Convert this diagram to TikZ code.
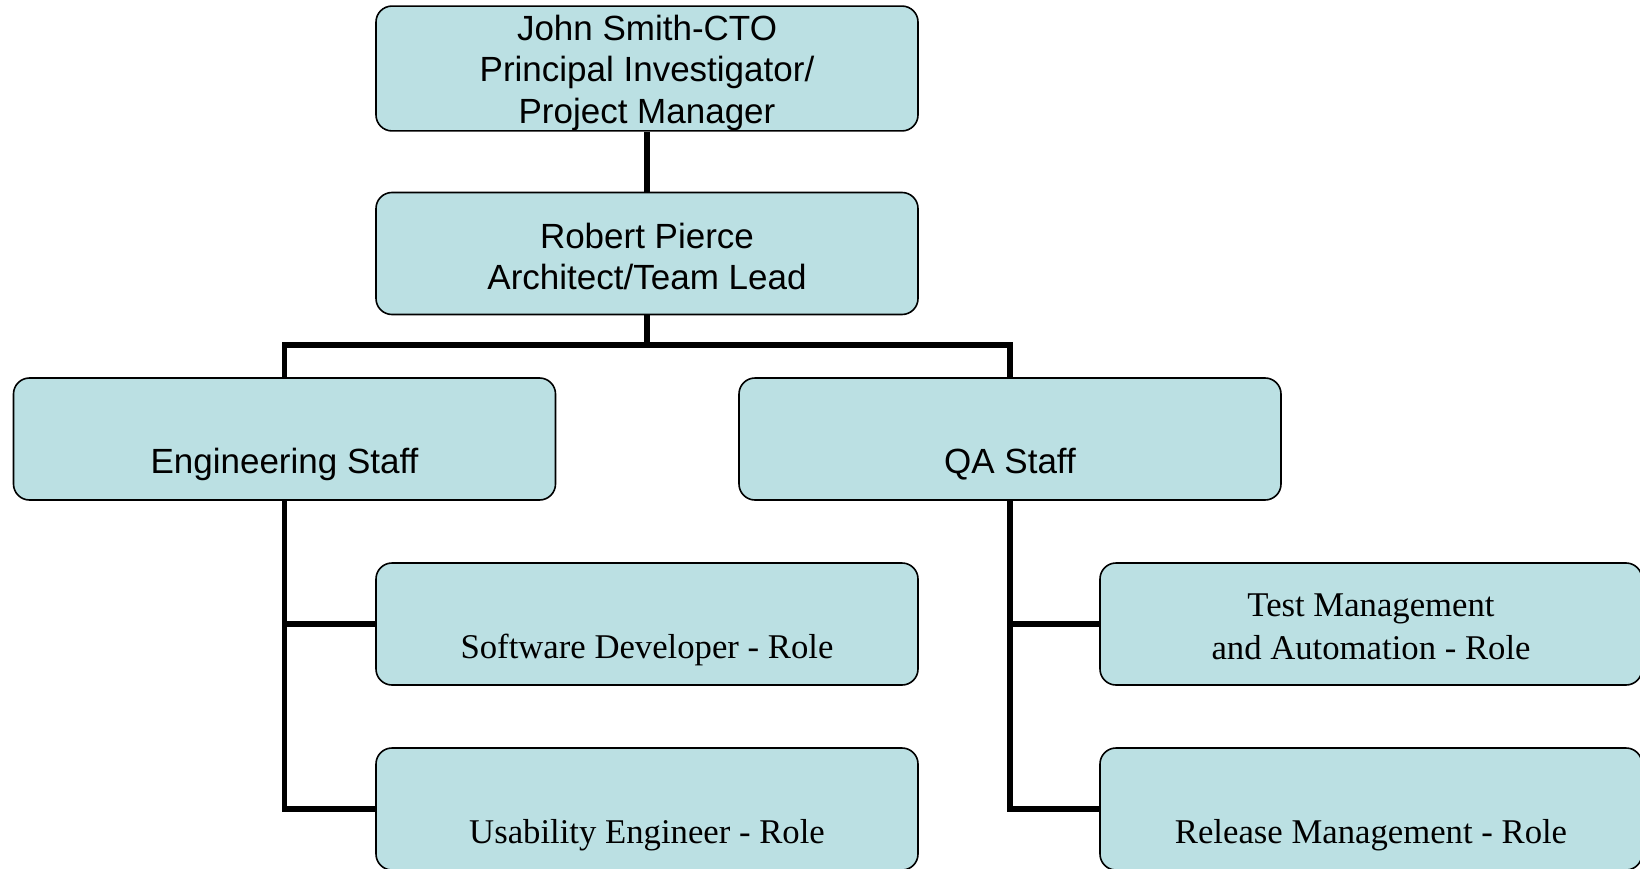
\documentclass[tikz,border=0pt]{standalone}
\usepackage{fontspec}
\setmainfont{Liberation Serif}
\newfontfamily\arialf{Liberation Sans}
\usetikzlibrary{backgrounds}
\definecolor{boxfill}{HTML}{BBE0E3}
\newcommand\sstrut{\rule[-3pt]{0pt}{37pt}}
\newcommand\rstrut{\rule[-6.3pt]{0pt}{41pt}}
\begin{document}
\begin{tikzpicture}[x=1pt,y=-1pt,
  box/.style={draw=black, line width=1.6pt, fill=boxfill, rounded corners=16pt,
    minimum width=542pt, minimum height=122pt, inner sep=0pt, align=center},
  sans/.style={font=\arialf\fontsize{35}{41.8}\selectfont},
  serif/.style={font=\fontsize{34.7}{41}\selectfont},
  link/.style={line width=5.5pt, line join=miter}]
\useasboundingbox (0,0) rectangle (1640,869);
\node[box,sans] (cto) at (647,68.5) {\sstrut John Smith-CTO\\\sstrut Principal Investigator/\\\sstrut Project Manager};
\node[box,sans] (lead) at (647,253.5) {\sstrut Robert Pierce\\\sstrut Architect/Team Lead};
\node[box,sans] (eng) at (284.5,439) {\sstrut\\\sstrut Engineering Staff};
\node[box,sans] (qa) at (1010,439) {\sstrut\\\sstrut QA Staff};
\node[box,serif] (dev) at (647,624) {\rstrut\\\rstrut Software Developer - Role};
\node[box,serif] (ux) at (647,809) {\rstrut\\\rstrut Usability Engineer - Role};
\node[box,serif] (test) at (1371,624) {\rstrut Test Management\\\rstrut and Automation - Role};
\node[box,serif] (rel) at (1371,809) {\rstrut\\\rstrut Release Management - Role};
\coordinate (bus) at (647,345);
\begin{scope}[on background layer]
\draw[link] (cto.south) -- (lead.north);
\draw[link] (lead.south) -- (bus);
\draw[link] (eng.north) |- (bus) -| (qa.north);
\draw[link] (eng.south) |- (dev.west);
\draw[link] (eng.south) |- (ux.west);
\draw[link] (qa.south) |- (test.west);
\draw[link] (qa.south) |- (rel.west);
\end{scope}
\end{tikzpicture}
\end{document}
